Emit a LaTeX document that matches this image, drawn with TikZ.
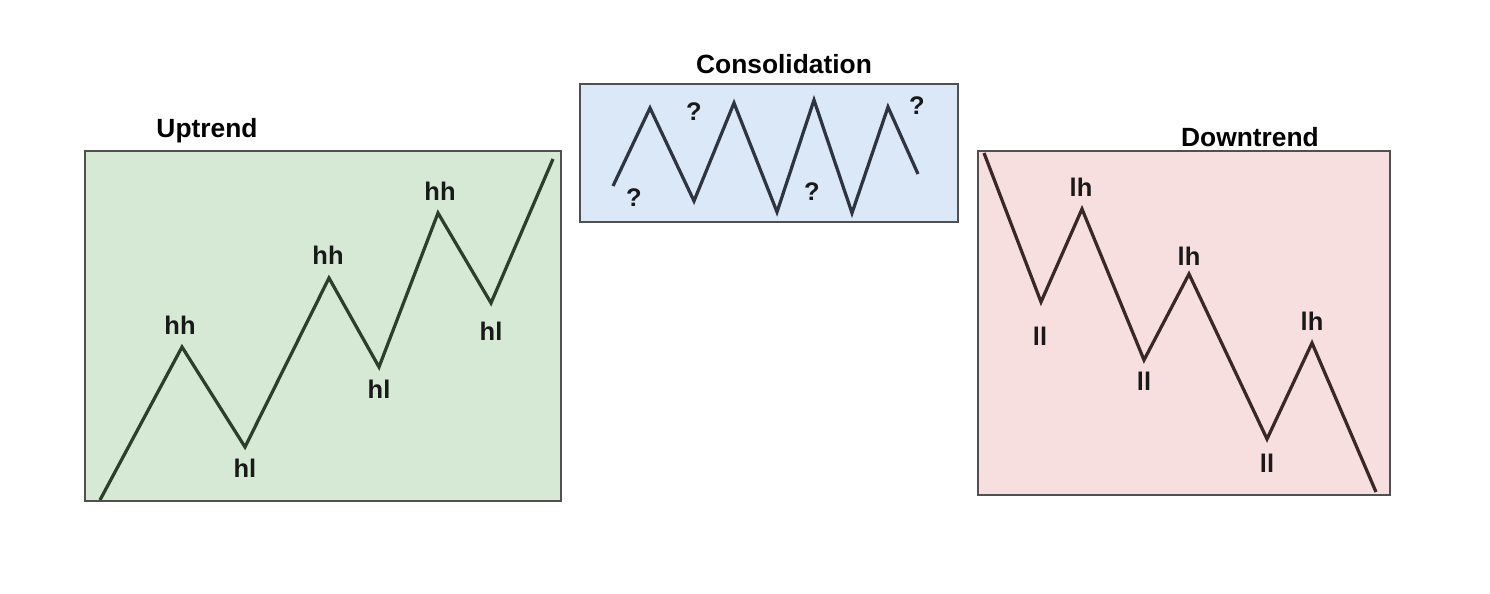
\documentclass[tikz,border=0pt]{standalone}
\usepackage{fontspec}
\setmainfont{Liberation Sans}
\usetikzlibrary{positioning}

\definecolor{upfill}{HTML}{D6E9D4}
\definecolor{upline}{HTML}{2A402A}
\definecolor{midfill}{HTML}{DAE8F8}
\definecolor{midline}{HTML}{2E3540}
\definecolor{downfill}{HTML}{F8DFDF}
\definecolor{downline}{HTML}{3A2828}
\definecolor{frame}{HTML}{505050}

\begin{document}
\begin{tikzpicture}[
    x=0.2mm, y=-0.2mm,
    font=\fontsize{14.5}{17}\selectfont\bfseries,
    panel/.style={draw=frame, line width=0.35mm},
    trend/.style={line width=0.65mm, line join=miter},
    tag/.style={inner sep=0pt, text=black!90},
    title/.style={inner sep=0pt, font=\fontsize{15}{18}\selectfont\bfseries},
  ]
  \useasboundingbox (0,0) rectangle (1490,594);

  % --- Uptrend ---
  \begin{scope}
    \draw[panel, fill=upfill] (85,151) rectangle (561,501);
    \node[title] (uptitle) at (207,131) {Uptrend};
    \coordinate (u0) at (100,500);
    \coordinate (u1) at (182,347);
    \coordinate (u2) at (245,447);
    \coordinate (u3) at (329,278);
    \coordinate (u4) at (379,367);
    \coordinate (u5) at (438,213);
    \coordinate (u6) at (491,303);
    \coordinate (u7) at (553,159);
    \draw[trend, upline] (u0) -- (u1) -- (u2) -- (u3) -- (u4) -- (u5) -- (u6) -- (u7);
    \node[tag] (uh1) at (180,325) {hh};
    \node[tag] (ul1) at (245,468) {hl};
    \node[tag] (uh2) at (328,255) {hh};
    \node[tag] (ul2) at (379,389) {hl};
    \node[tag] (uh3) at (440,191) {hh};
    \node[tag] (ul3) at (491,331) {hl};
  \end{scope}

  % --- Consolidation ---
  \begin{scope}
    \draw[panel, fill=midfill] (580,84) rectangle (958,222);
    \node[title] (midtitle) at (784,64) {Consolidation};
    \coordinate (c0) at (613,186);
    \coordinate (c1) at (650,108);
    \coordinate (c2) at (694,201);
    \coordinate (c3) at (734,103);
    \coordinate (c4) at (777,212);
    \coordinate (c5) at (814,100);
    \coordinate (c6) at (852,213);
    \coordinate (c7) at (888,107);
    \coordinate (c8) at (918,174);
    \draw[trend, midline] (c0) -- (c1) -- (c2) -- (c3) -- (c4) -- (c5) -- (c6) -- (c7) -- (c8);
    \node[tag] (q1) at (634,198) {?};
    \node[tag] (q2) at (694,112) {?};
    \node[tag] (q3) at (812,192) {?};
    \node[tag] (q4) at (917,106) {?};
  \end{scope}

  % --- Downtrend ---
  \begin{scope}
    \draw[panel, fill=downfill] (978,151) rectangle (1390,495);
    \node[title] (downtitle) at (1250,137) {Downtrend};
    \coordinate (d0) at (984,153);
    \coordinate (d1) at (1041,302);
    \coordinate (d2) at (1082,209);
    \coordinate (d3) at (1144,360);
    \coordinate (d4) at (1189,274);
    \coordinate (d5) at (1267,439);
    \coordinate (d6) at (1312,343);
    \coordinate (d7) at (1376,492);
    \draw[trend, downline] (d0) -- (d1) -- (d2) -- (d3) -- (d4) -- (d5) -- (d6) -- (d7);
    \node[tag] (dl1) at (1040,336) {ll};
    \node[tag] (dh1) at (1081,187) {lh};
    \node[tag] (dl2) at (1144,381) {ll};
    \node[tag] (dh2) at (1189,256) {lh};
    \node[tag] (dl3) at (1267,463) {ll};
    \node[tag] (dh3) at (1312,321) {lh};
  \end{scope}
\end{tikzpicture}
\end{document}
